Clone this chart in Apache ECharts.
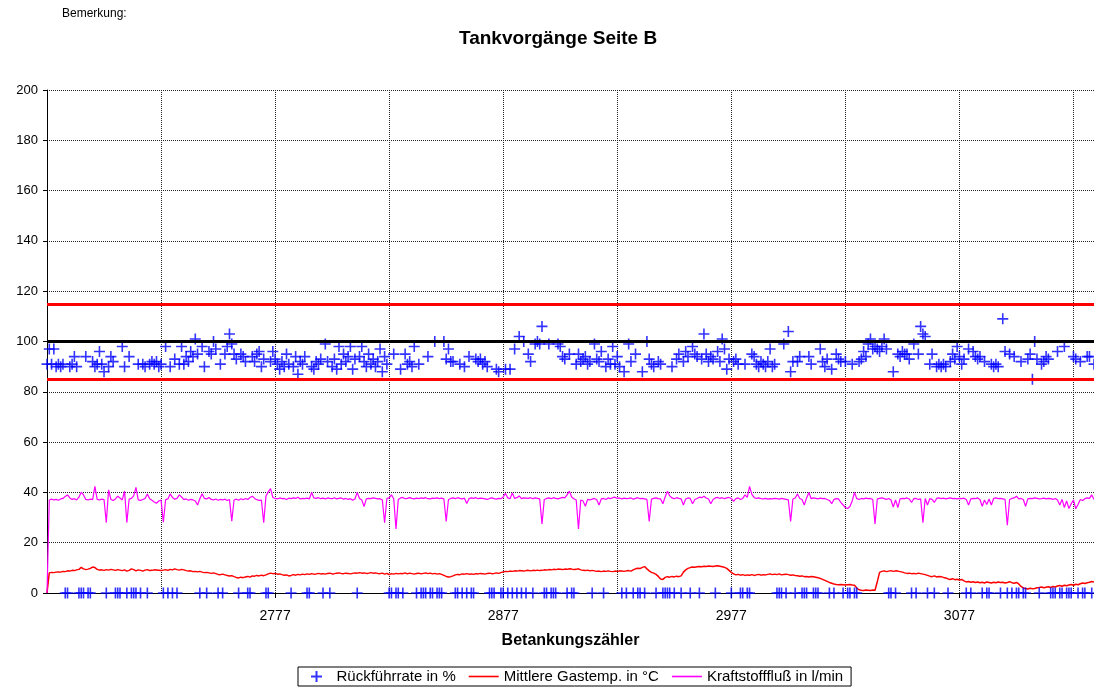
<!DOCTYPE html>
<html>
<head>
<meta charset="UTF-8">
<title>Tankvorgänge Seite B</title>
<script src="https://cdn.jsdelivr.net/npm/echarts@6/dist/echarts.min.js"></script>
<style>
html,body{margin:0;padding:0;background:#fff;}
#chart{width:1094px;height:691px;}
</style>
</head>
<body>
<div id="chart"></div>
<script>
// Betankungszähler der ersten Betankung
var firstCount = 2677;
var tickLabels = ['2777', '2877', '2977', '3077'];
var grenzen = [115, 100, 85];

// Rückführrate in %  (0 = kein Wert)
var rueckfuehrrate = [
  91,97,91,97,90,91,90,91,0,0, 90,91,94,90,0,0,0,94,0,0,
  92,90,91,96,91,88,0,90,94,92, 0,0,0,98,90,0,94,0,0,0,
  91,0,91,90,0,91,92,91,92,90, 91,0,98,0,90,0,93,0,91,98,
  91,94,92,96,94,101,95,0,98,90, 0,96,95,100,97,0,91,0,95,98,
  103,99,95,93,0,95,94,92,0,0, 94,92,95,96,90,93,0,0,92,96,
  93,91,89,92,90,95,91,0,90,94, 87,92,91,94,0,0,90,89,92,91,
  93,0,99,92,0,90,93,89,98,91, 95,92,94,98,89,93,0,94,98,92,
  90,95,91,93,90,92,97,88,94,91, 0,0,95,0,0,89,0,95,91,92,
  90,98,0,91,0,0,0,94,0,0, 100,0,0,0,100,93,97,92,92,0,
  0,91,0,90,0,94,0,0,93,92, 93,91,92,90,0,0,0,89,88,0,
  0,89,0,89,0,97,0,102,0,100, 0,95,92,0,99,100,99,106,0,0,
  99,0,0,0,99,98,94,93,0,95, 0,0,91,95,92,93,94,91,92,0,
  99,93,92,96,0,90,93,91,98,91, 94,90,0,88,0,99,92,0,95,0,
  0,88,0,100,93,91,90,0,92,91, 0,0,0,0,90,0,93,95,0,92,
  96,94,0,98,95,94,0,93,103,95, 92,94,93,0,96,92,101,97,89,93,
  0,92,93,91,0,0,91,0,0,95, 94,91,90,92,91,90,92,97,90,91,
  0,0,0,99,0,104,88,92,0,92, 94,0,0,0,94,91,0,0,0,97,
  92,90,93,0,89,0,95,93,92,0, 92,0,0,91,0,0,92,93,96,94,
  99,101,97,98,97,96,98,101,97,0, 0,88,0,95,94,96,95,95,93,0,
  99,0,95,106,103,102,0,91,95,0, 90,91,90,91,90,0,92,95,93,98,
  94,91,93,0,97,0,96,94,93,94, 0,92,0,0,91,90,91,90,0,109,
  96,0,95,0,94,0,0,92,0,0, 93,95,85,100,93,0,91,92,94,93,
  0,0,0,96,0,0,98,0,0,0, 94,93,0,92,0,0,94,94,0,91
];

// Mittlere Gastemp. in °C
var gastemp = [
  0,8.0,8.2,8.1,8.3,8.4,8.3,8.6,8.5,8.8, 8.7,9.0,8.9,9.2,9.4,10.2,9.6,9.3,9.5,9.8,
  10.3,10.1,9.4,9.1,9.2,9.0,9.3,9.1,9.4,9.2, 9.0,9.3,9.1,8.9,9.2,8.7,9.0,9.6,9.3,8.8,
  9.2,9.0,8.7,9.1,9.3,8.9,9.0,9.2,9.1,9.0, 8.9,9.1,9.3,9.0,9.4,9.2,9.6,9.3,9.1,9.4,
  9.2,8.9,8.7,8.8,8.5,8.6,8.4,8.6,8.3,8.1, 8.2,8.0,7.8,8.0,7.7,7.4,7.3,7.5,7.2,7.0,
  6.8,6.9,6.5,6.2,6.0,6.3,6.1,6.4,6.6,6.3, 6.8,6.7,7.0,6.8,7.1,6.9,7.2,7.6,7.9,7.7,
  7.8,7.5,7.6,7.3,7.1,7.2,6.8,7.0,7.3,7.1, 7.4,7.2,7.5,7.3,7.6,7.4,7.7,7.5,7.6,7.8,
  7.6,7.7,7.5,7.8,7.9,7.6,7.7,7.9,8.0,7.8, 7.7,7.9,7.8,7.6,7.8,8.0,7.9,8.1,7.9,8.0,
  7.8,7.9,8.1,7.9,8.0,7.8,7.7,7.9,7.5,7.8, 7.3,7.7,7.5,7.8,7.6,7.8,7.7,8.0,7.6,7.9,
  7.7,7.5,7.8,7.9,7.6,7.8,8.0,7.7,7.9,7.6, 7.8,7.5,7.7,7.4,7.0,6.6,6.4,6.5,6.8,7.2,
  7.4,7.3,7.6,7.5,7.7,7.5,7.6,7.4,7.7,7.6, 7.8,7.7,7.5,7.8,7.9,7.7,7.8,8.0,7.8,8.1,
  8.4,8.6,8.5,8.7,8.6,8.8,8.7,8.9,8.8,8.7, 8.9,9.0,8.8,9.0,8.9,9.1,8.9,9.0,9.2,9.1,
  9.3,9.2,9.4,9.3,9.5,9.4,9.3,9.5,9.4,9.6, 9.5,9.3,9.4,9.6,9.2,9.0,8.9,9.1,8.8,9.0,
  8.8,8.6,8.7,8.5,8.7,8.6,8.8,8.6,8.5,8.7, 8.6,8.8,8.7,8.6,8.8,8.9,8.7,9.2,9.6,9.8,
  9.7,10.2,10.5,9.6,8.8,8.2,7.9,7.4,6.6,5.6, 5.4,6.2,6.5,6.3,6.6,6.4,6.7,6.5,6.8,8.3,
  9.2,9.8,10.1,10.3,10.2,10.4,10.5,10.4,10.6,10.5, 10.7,10.6,10.5,10.7,10.8,10.6,10.4,10.2,9.8,9.0,
  8.2,7.6,7.2,7.4,7.1,7.3,7.0,7.2,7.1,7.3, 7.0,7.2,7.4,7.1,7.3,7.2,7.4,7.6,7.3,7.5,
  7.3,7.6,7.2,7.4,7.5,7.3,7.1,7.2,7.0,6.9, 6.7,6.8,6.5,6.6,6.4,6.6,6.5,6.3,6.1,5.8,
  5.4,5.0,4.6,4.2,3.9,3.6,3.4,3.3,3.4,3.3, 3.2,3.3,3.4,3.2,3.1,2.0,1.3,1.1,1.0,1.2,
  1.1,1.0,1.2,1.1,4.5,8.2,8.6,8.8,8.5,8.7, 8.9,8.6,8.8,8.7,8.5,8.3,8.0,7.8,7.9,7.7,
  7.8,7.6,7.9,7.7,7.5,7.3,7.0,6.7,6.5,6.8, 6.4,6.6,6.5,6.2,6.0,5.6,5.4,5.7,5.3,5.5,
  5.2,5.4,4.8,4.4,4.6,4.3,4.5,4.2,4.4,4.1, 4.3,4.0,4.4,4.2,4.0,4.3,4.1,4.4,4.2,4.3,
  4.0,4.2,4.5,4.1,3.9,4.2,3.6,2.6,2.0,1.8, 1.6,1.9,1.7,1.8,2.1,2.2,2.4,2.1,2.3,2.5,
  2.2,2.6,2.4,2.8,3.0,2.7,3.1,2.9,3.2,3.4, 3.1,3.5,3.3,3.7,4.0,3.8,4.1,4.3,4.6,4.4
];

// Kraftstofffluß in l/min
var kraftstofffluss = [
  0,37.0,37.3,37.0,37.2,36.9,37.4,37.6,38.4,39.0, 37.8,37.2,37.5,37.0,38.1,40.1,39.0,37.2,37.0,37.3,
  37.1,42.4,37.2,37.0,37.3,37.1,28.0,41.0,37.2,36.8, 37.4,38.5,37.8,37.0,40.5,28.0,37.3,37.6,38.6,42.0,
  37.0,36.8,37.2,37.6,39.4,37.5,36.9,36.2,35.7,36.6, 37.0,28.2,37.1,37.4,39.4,38.0,37.3,37.6,39.0,38.2,
  37.1,37.4,36.9,37.2,37.0,36.6,35.0,37.5,39.5,37.6, 37.4,38.0,37.2,37.0,37.4,36.9,37.2,37.0,37.3,36.8,
  37.2,28.6,37.0,37.3,36.9,37.5,37.1,37.6,37.2,38.0, 38.5,37.6,37.1,36.8,36.9,28.0,38.6,40.2,41.5,38.0,
  37.6,37.4,37.8,37.5,37.6,37.2,37.7,37.5,37.8,37.6, 38.1,37.4,37.6,37.5,37.7,37.4,40.0,37.8,37.6,37.9,
  37.5,37.7,37.4,37.8,37.6,37.5,37.9,37.4,37.6,37.8, 37.3,37.6,37.2,37.5,36.9,37.4,40.0,37.6,37.0,34.4,
  37.4,37.6,37.5,37.8,37.6,37.4,37.5,37.0,28.0,37.6, 37.8,39.0,37.5,25.5,37.2,37.8,38.0,37.5,37.6,37.9,
  37.6,37.4,37.7,37.5,37.8,37.6,37.9,37.5,37.4,37.7, 37.6,37.8,37.5,37.7,37.4,28.5,37.2,37.6,37.8,37.5,
  37.9,37.6,37.4,37.7,35.6,37.5,37.8,37.6,37.9,37.5, 37.7,37.6,37.4,37.2,37.6,37.8,37.5,37.3,37.6,37.5,
  38.2,39.6,37.8,37.5,39.8,37.6,37.9,38.6,37.5,37.8, 37.7,37.6,37.9,37.5,37.8,37.6,37.4,27.5,37.2,37.6,
  37.8,37.5,37.9,37.6,37.4,37.7,38.0,37.8,39.0,40.5, 38.2,37.5,37.0,25.5,37.0,36.6,34.5,37.2,37.0,37.3,
  37.6,37.1,35.0,37.4,37.6,37.2,37.8,37.5,37.9,38.1, 37.6,37.8,37.4,37.7,37.5,37.6,37.8,37.3,37.6,37.9,
  37.5,37.6,37.4,37.2,28.5,37.3,37.6,37.8,37.5,37.4, 35.5,38.2,40.5,38.6,37.8,37.5,37.9,37.6,37.4,35.0,
  37.4,37.8,37.6,35.5,37.2,37.6,38.1,37.9,38.5,37.8, 37.4,35.5,37.2,37.8,38.0,37.6,37.9,37.5,37.8,38.0,
  37.6,36.4,37.5,37.8,37.2,37.6,39.0,38.0,42.4,39.2, 38.0,37.6,37.8,37.5,37.4,37.6,37.3,37.5,37.4,37.6,
  37.5,37.3,37.6,37.4,37.2,37.0,28.5,37.4,37.8,39.4, 37.6,37.2,35.0,37.8,40.0,37.5,37.8,37.6,37.4,37.7,
  37.5,37.6,37.2,36.8,35.5,37.2,37.5,37.4,36.0,35.0, 34.0,33.6,34.4,36.6,40.0,37.5,37.2,37.6,37.4,37.7,
  37.5,37.6,37.2,27.5,37.4,37.6,37.8,37.5,37.2,37.6, 37.0,34.2,37.0,34.0,37.4,37.6,37.5,37.8,37.4,36.0,
  37.5,37.6,37.2,37.4,28.0,37.6,35.0,37.5,37.2,36.0, 37.6,37.8,37.5,37.7,37.4,37.6,37.8,37.5,37.6,37.4,
  37.6,37.5,37.7,37.2,35.0,37.4,37.6,37.5,37.8,37.2, 34.5,37.0,35.2,37.4,35.0,37.6,37.8,37.5,37.6,37.4,
  37.2,27.0,37.2,37.6,37.8,38.5,37.4,37.6,37.2,34.5, 37.4,37.6,37.5,37.8,37.6,37.4,37.5,37.7,37.4,37.6,
  37.5,37.2,37.6,37.0,35.0,37.2,34.0,36.6,33.6,35.5, 37.0,33.5,35.2,37.2,36.8,37.5,37.8,37.6,39.0,37.2
];

var counters = [];
for (var i = 0; i < rueckfuehrrate.length; i++) {
  counters.push(String(firstCount + i));
}

var fontFam = 'Liberation Sans, Arial, sans-serif';
var plus = 'path://M0,5L10,5M5,0L5,10';
var strich = 'path://M0,0L30,0L30,1.6L0,1.6Z';

function isLabel(index, value) {
  return tickLabels.indexOf(value) >= 0;
}

var myChart = echarts.init(document.getElementById('chart'));

var option = {
  animation: false,
  backgroundColor: '#fff',
  textStyle: { fontFamily: fontFam, color: '#000' },
  title: {
    text: 'Tankvorgänge Seite B',
    left: 454,
    top: 24,
    textStyle: { fontSize: 19, fontWeight: 'bold', color: '#000', fontFamily: fontFam }
  },
  graphic: [{
    type: 'text',
    left: 62,
    top: 8,
    style: { text: 'Bemerkung:', fontSize: 12, fill: '#000', fontFamily: fontFam }
  }],
  legend: {
    left: 298,
    top: 667,
    padding: [2, 8, 2, 12],
    borderColor: '#000',
    borderWidth: 1,
    itemGap: 13,
    itemWidth: 30,
    itemHeight: 11,
    textStyle: { fontSize: 15, color: '#000', fontFamily: fontFam },
    data: [
      { name: 'Rückführrate in %', icon: plus },
      { name: 'Mittlere Gastemp. in °C', icon: strich },
      { name: 'Kraftstofffluß in l/min', icon: strich }
    ]
  },
  grid: { left: 47, right: 0, top: 90, bottom: 98 },
  xAxis: {
    type: 'category',
    data: counters,
    boundaryGap: false,
    name: 'Betankungszähler',
    nameLocation: 'middle',
    nameGap: 40,
    nameTextStyle: { fontSize: 16, fontWeight: 'bold', color: '#000', fontFamily: fontFam },
    axisLine: { lineStyle: { color: '#000', width: 1 } },
    axisTick: { show: true, interval: isLabel, length: 5, lineStyle: { color: '#000' } },
    axisLabel: { interval: isLabel, fontSize: 14, color: '#000', margin: 16 },
    splitLine: {
      show: true,
      interval: function (index) { return index % 50 === 0; },
      lineStyle: { color: '#222', type: [1, 1], width: 1 }
    }
  },
  yAxis: {
    type: 'value',
    min: 0,
    max: 200,
    interval: 20,
    axisLine: { show: true, lineStyle: { color: '#000', width: 1 } },
    axisTick: { show: true, length: 4, lineStyle: { color: '#000' } },
    axisLabel: { fontSize: 13, color: '#000', margin: 9 },
    splitLine: { lineStyle: { color: '#222', type: [1, 1], width: 1 } }
  },
  series: [
    {
      name: 'Rückführrate in %',
      type: 'scatter',
      data: rueckfuehrrate,
      symbol: plus,
      symbolSize: 11,
      z: 4,
      itemStyle: { color: '#0000ff', borderColor: '#0000ff', borderWidth: 1.6 }
    },
    {
      name: 'Mittlere Gastemp. in °C',
      type: 'line',
      data: gastemp,
      symbol: 'none',
      z: 3,
      lineStyle: { color: '#ff0000', width: 1.5 },
      itemStyle: { color: '#ff0000' },
      markLine: {
        silent: true,
        symbol: 'none',
        label: { show: false },
        lineStyle: { width: 3, type: 'solid' },
        data: [
          { yAxis: grenzen[0], lineStyle: { color: '#ff0000', width: 3, type: 'solid' } },
          { yAxis: grenzen[1], lineStyle: { color: '#000000', width: 3, type: 'solid' } },
          { yAxis: grenzen[2], lineStyle: { color: '#ff0000', width: 3, type: 'solid' } }
        ]
      }
    },
    {
      name: 'Kraftstofffluß in l/min',
      type: 'line',
      data: kraftstofffluss,
      symbol: 'none',
      z: 3,
      lineStyle: { color: '#ff00ff', width: 1.2 },
      itemStyle: { color: '#ff00ff' }
    }
  ]
};

myChart.setOption(option);
</script>
</body>
</html>
